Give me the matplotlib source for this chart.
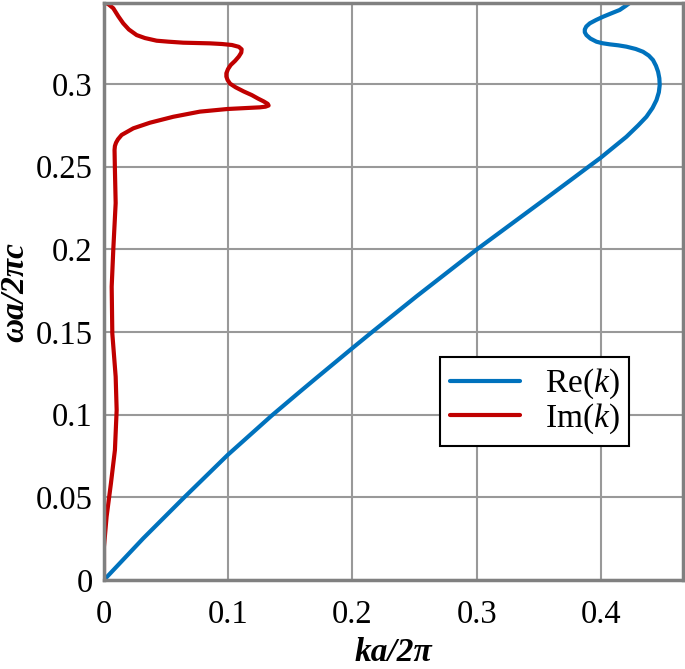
import matplotlib
matplotlib.use("Agg")
import matplotlib.pyplot as plt

plt.rcParams['font.family'] = 'serif'
plt.rcParams['font.serif'] = ['Liberation Serif', 'DejaVu Serif']
plt.rcParams['mathtext.fontset'] = 'custom'
plt.rcParams['mathtext.rm'] = 'Liberation Serif'
plt.rcParams['mathtext.it'] = 'Liberation Serif:italic'

# Re(k): frequency (y) vs ka/2pi (x)
re_freq = [0.0, 0.0252, 0.0494, 0.0756, 0.0994, 0.1139, 0.1215, 0.1403, 0.1489,
           0.1716, 0.1998, 0.2325, 0.2430, 0.2493, 0.2553, 0.2681, 0.2750, 0.2802,
           0.2855, 0.2903, 0.2950, 0.2994, 0.3035, 0.3074, 0.3110, 0.3145, 0.3172,
           0.3195, 0.3212, 0.3226, 0.3234, 0.3240, 0.3247, 0.3256, 0.3275, 0.3296,
           0.3313, 0.3330, 0.3348, 0.3367, 0.3387, 0.3407, 0.3428, 0.3448, 0.3473,
           0.3498, 0.3520]
re_k = [0.0, 0.0316, 0.0638, 0.0995, 0.1349, 0.1577, 0.1698, 0.2000, 0.2140,
        0.2516, 0.2998, 0.3588, 0.3776, 0.3888, 0.3996, 0.4205, 0.4300, 0.4366,
        0.4415, 0.4447, 0.4466, 0.4473, 0.4470, 0.4460, 0.4443, 0.4419, 0.4385,
        0.4339, 0.4280, 0.4205, 0.4140, 0.4071, 0.4010, 0.3964, 0.3915, 0.3883,
        0.3870, 0.3870, 0.3882, 0.3910, 0.3960, 0.4017, 0.4085, 0.4151, 0.4200,
        0.4245, 0.4280]

# Im(k)
im_freq = [0.0, 0.0060, 0.0201, 0.0383, 0.0585, 0.0786, 0.1028, 0.1230, 0.1492,
           0.1774, 0.2000, 0.2280, 0.2480, 0.2601, 0.2625, 0.2645, 0.2665, 0.2692,
           0.2732, 0.2766, 0.2802, 0.2833, 0.2849, 0.2855, 0.2859, 0.2863, 0.2870,
           0.2880, 0.2895, 0.2912, 0.2933, 0.2955, 0.2980, 0.3002, 0.3024, 0.3045,
           0.3065, 0.3090, 0.3115, 0.3140, 0.3166, 0.3190, 0.3210, 0.3225, 0.3236,
           0.3242, 0.3246, 0.3250, 0.3256, 0.3262, 0.3278, 0.3296, 0.3330, 0.3367,
           0.3410, 0.3458, 0.3480, 0.3498, 0.3520]
im_k = [0.0, 0.0, 0.0, 0.0021, 0.0056, 0.0088, 0.0102, 0.0094, 0.0067,
        0.0062, 0.0075, 0.0094, 0.0088, 0.0085, 0.0088, 0.0097, 0.0112, 0.0142,
        0.0236, 0.0370, 0.0558, 0.0772, 0.0995, 0.1150, 0.1255, 0.1300, 0.1325,
        0.1318, 0.1285, 0.1240, 0.1190, 0.1125, 0.1060, 0.1015, 0.0995, 0.0985,
        0.0985, 0.0998, 0.1020, 0.1055, 0.1085, 0.1105, 0.1108, 0.1085, 0.1030,
        0.0950, 0.0853, 0.0638, 0.0520, 0.0424, 0.0330, 0.0263, 0.0200, 0.0155,
        0.0115, 0.0075, 0.0040, 0.0, -0.002]

xticks = [0, 0.1, 0.2, 0.3, 0.4]
yticks = [0, 0.05, 0.1, 0.15, 0.2, 0.25, 0.3]

fig = plt.figure(figsize=(6.85, 6.69), dpi=100)
ax = fig.add_axes([0.1518, 0.133, 0.8452, 0.8625])

ax.plot(re_k, re_freq, color='#0072BD', lw=3, label='Re($k$)',
        solid_joinstyle='round', solid_capstyle='round')
ax.plot(im_k, im_freq, color='#C00000', lw=3, label='Im($k$)',
        solid_joinstyle='round', solid_capstyle='round')

ax.set_xlim(0, 0.466)
ax.set_ylim(0, 0.349)
ax.set_xticks(xticks)
ax.set_xticklabels(['0', '0.1', '0.2', '0.3', '0.4'])
ax.set_yticks(yticks)
ax.set_yticklabels(['0', '0.05', '0.1', '0.15', '0.2', '0.25', '0.3'])
ax.tick_params(length=0, labelsize=23.5)
ax.tick_params(axis='x', pad=14)
ax.tick_params(axis='y', pad=8)

ax.grid(True, color='#999999', lw=1.5)
ax.set_axisbelow(True)
for s in ax.spines.values():
    s.set_color('#808080')
    s.set_linewidth(2.5)

ax.set_xlabel('ka/2π', fontsize=24, fontweight='bold', fontstyle='italic', labelpad=5)
ax.set_ylabel('ωa/2πc', fontsize=24, fontweight='bold', fontstyle='italic', labelpad=4)

leg = ax.legend(loc='upper left', bbox_to_anchor=(0.58, 0.3865), borderaxespad=0,
                fontsize=24, fancybox=False, framealpha=1, edgecolor='black',
                handlelength=2.1, handletextpad=0.75, labelspacing=0.0,
                borderpad=0.3)
leg.get_frame().set_linewidth(1.5)

fig.savefig('out.png', dpi=100)
